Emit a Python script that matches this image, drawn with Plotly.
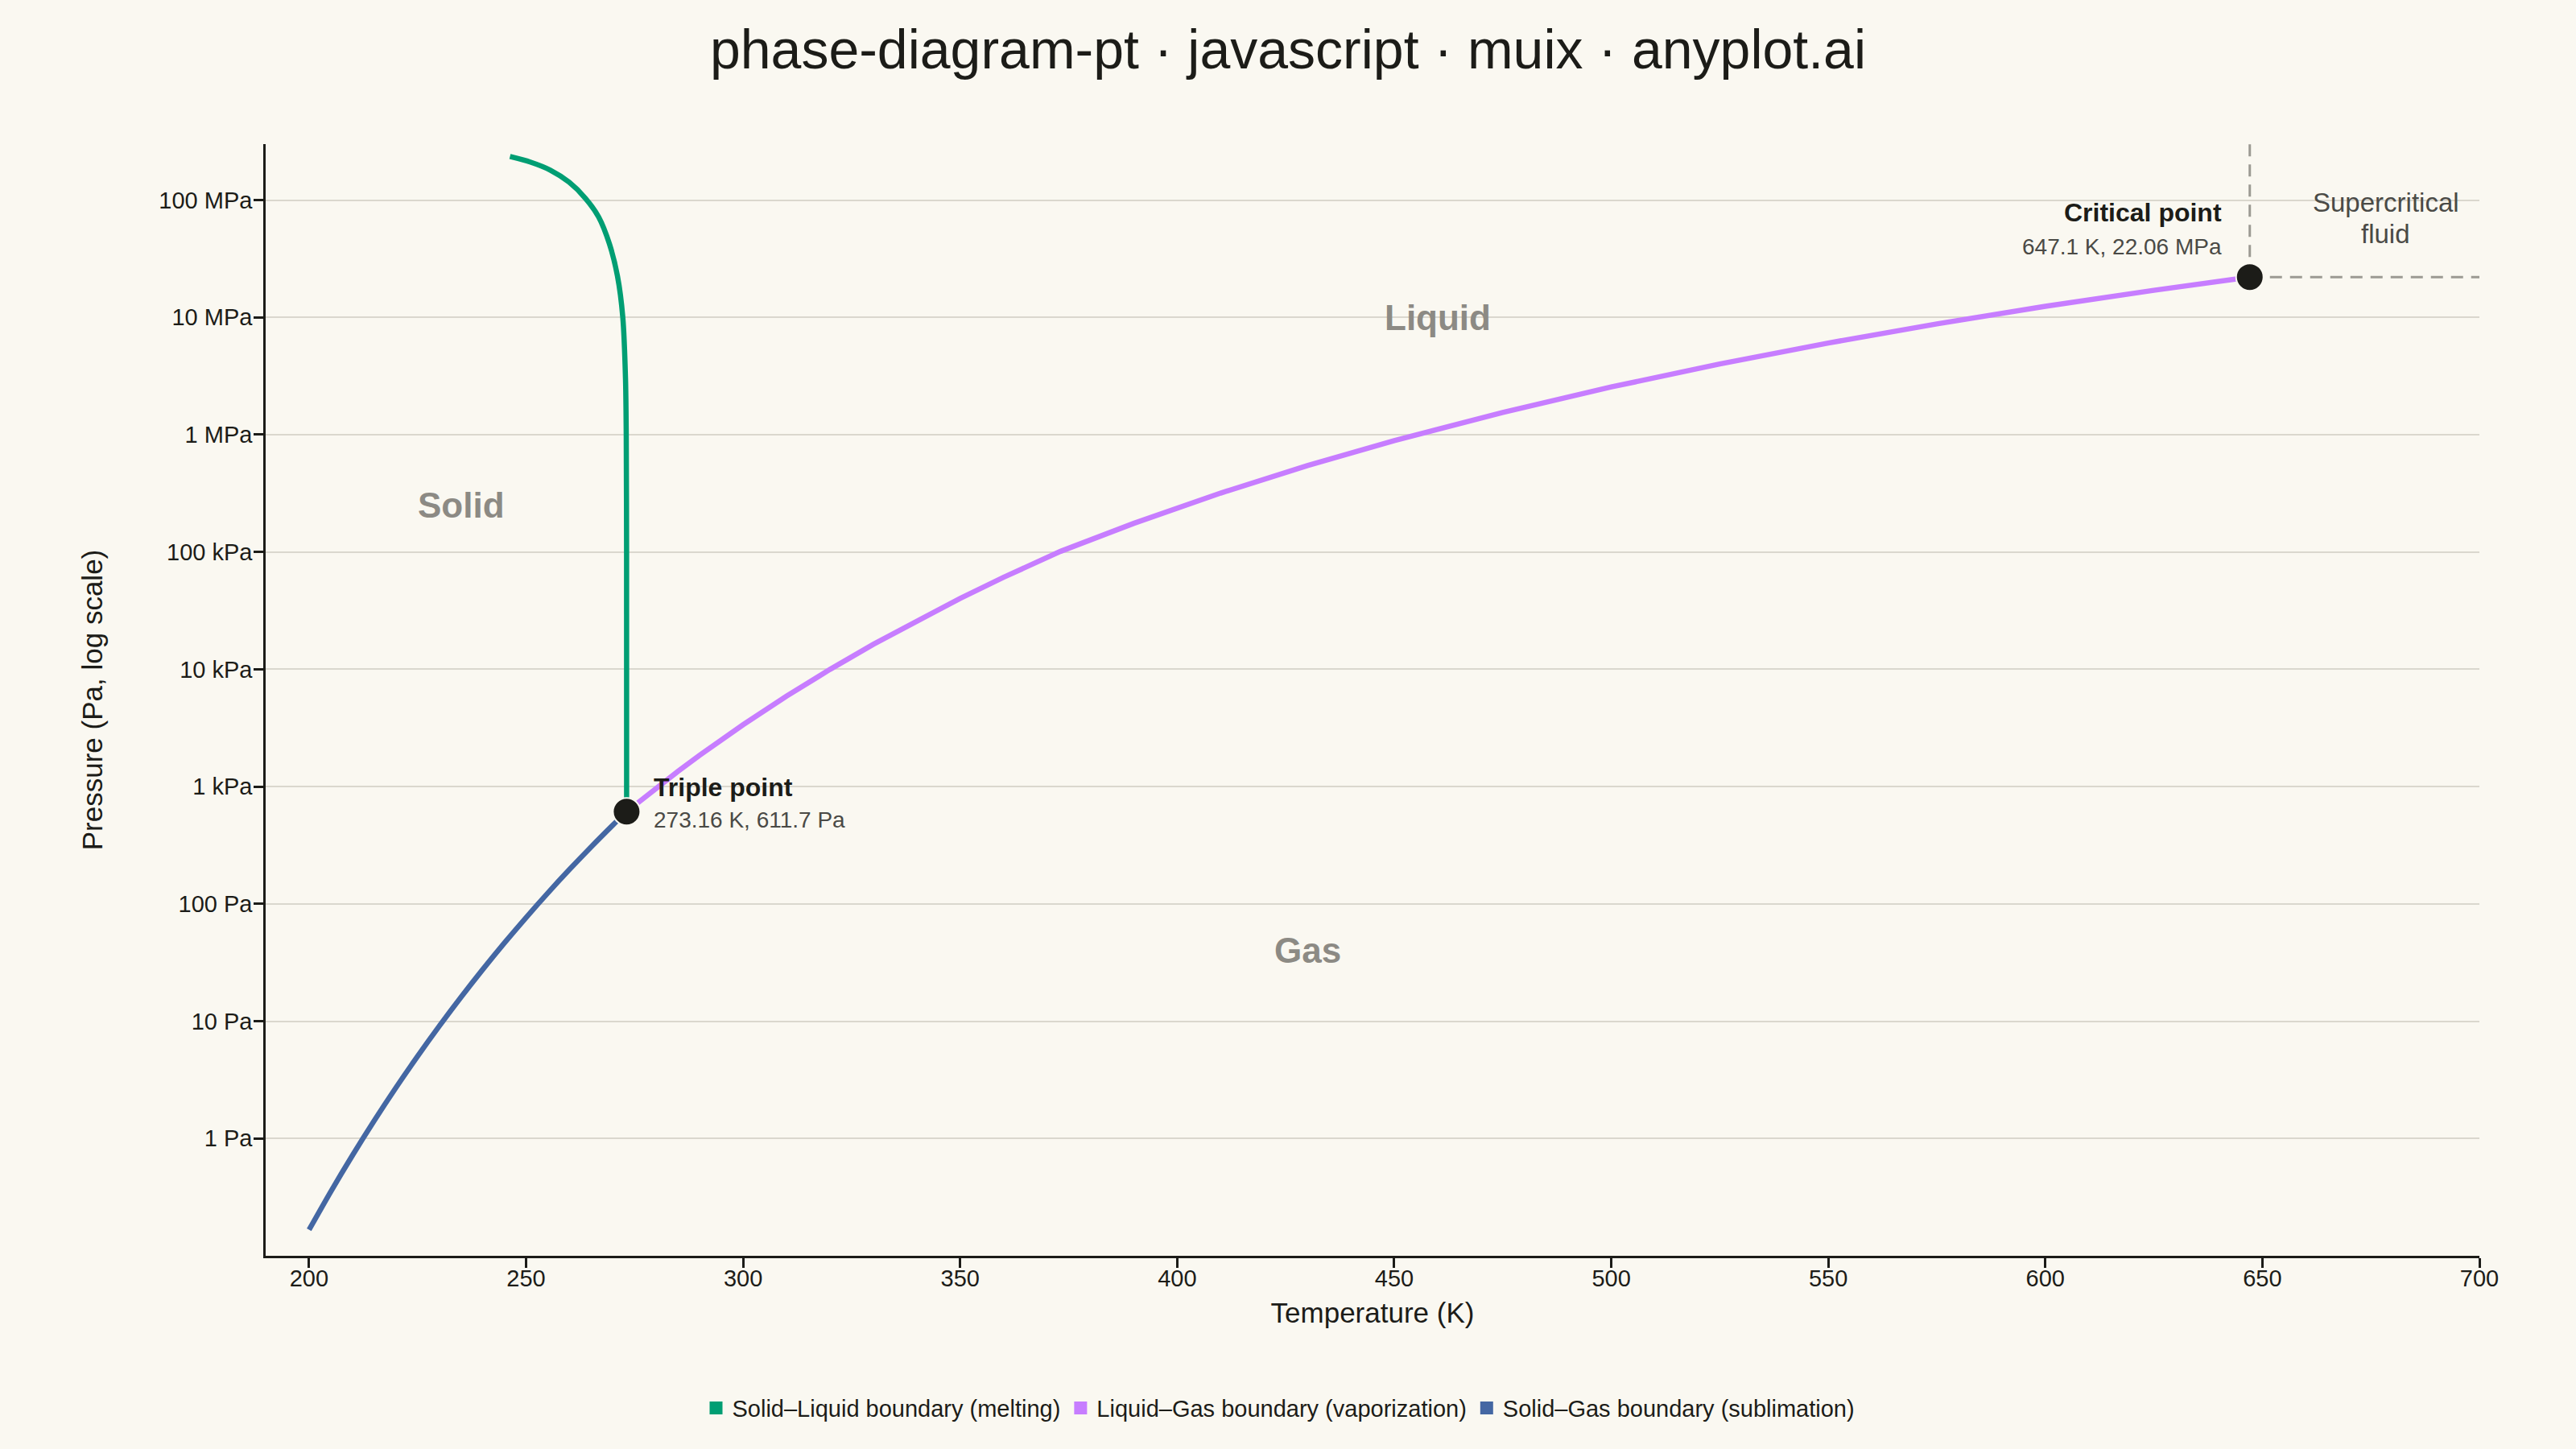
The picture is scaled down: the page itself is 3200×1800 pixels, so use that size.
import numpy as np
import plotly.graph_objects as go

# Phase boundaries of water (temperature in K, pressure in Pa)
melt_T = [273.16, 273.15, 273.07, 272.90, 272.28, 271.05, 269.19, 266.71,
          263.62, 259.91, 255.57, 250.93, 246.29]
melt_P = [611.7, 1.0e5, 1.0e6, 3.03e6, 1.0e7, 2.25e7, 4.24e7, 7.18e7,
          1.04e8, 1.42e8, 1.80e8, 2.11e8, 2.35e8]

vap_T = [273.16, 276, 280, 285, 290, 300, 310, 320, 330, 340, 350, 360,
         373.15, 390, 410, 430, 450, 475, 500, 525, 550, 575, 600, 625, 647.1]
vap_P = [611.7, 744.3, 974.6, 1351, 1851, 3369, 5899, 9972, 16333, 25979,
         40250, 60853, 101325, 175500, 317700, 544300, 888800, 1.548e6,
         2.551e6, 4.009e6, 6.046e6, 8.797e6, 1.241e7, 1.702e7, 2.206e7]

sub_T = [200, 205, 210, 215, 220, 225, 230, 235, 240, 245, 250, 255, 260,
         265, 270, 273.16]
sub_P = [0.1667, 0.3525, 0.7181, 1.416, 2.707, 5.026, 9.086, 16.01, 27.57,
         46.42, 76.53, 123.8, 196.5, 306.6, 470.5, 611.7]

triple_T, triple_P = 273.16, 611.7
crit_T, crit_P = 647.1, 22.06e6

region_names = ["Solid", "Liquid", "Gas"]
region_T = [235, 460, 430]
region_P = [2.5e5, 1.0e7, 40]

x_range = [190, 700]
y_range = [0.1, 3e8]
x_ticks = [200, 250, 300, 350, 400, 450, 500, 550, 600, 650, 700]
y_ticks = [1, 10, 100, 1e3, 1e4, 1e5, 1e6, 1e7, 1e8]
y_ticktext = ["1 Pa", "10 Pa", "100 Pa", "1 kPa", "10 kPa", "100 kPa",
              "1 MPa", "10 MPa", "100 MPa"]

series = [
    ("Solid\u2013Liquid boundary (melting)", melt_T, melt_P, "#009E73", "spline"),
    ("Liquid\u2013Gas boundary (vaporization)", vap_T, vap_P, "#C77DFF", "linear"),
    ("Solid\u2013Gas boundary (sublimation)", sub_T, sub_P, "#4467A3", "spline"),
]

BG = "#FAF8F1"
INK = "#1C1C18"
FONT = "Liberation Sans, Arial, sans-serif"

fig = go.Figure()

for name, t, p, color, shape in series:
    fig.add_trace(go.Scatter(
        x=t, y=p, mode="lines", name=name,
        line=dict(color=color, width=6.5, shape=shape, smoothing=0.8),
        showlegend=False, legendgroup=name,
    ))

# dashed guides from the critical point
fig.add_trace(go.Scatter(
    x=[crit_T, crit_T], y=[crit_P, y_range[1]], mode="lines",
    line=dict(color="#9C9A93", width=3, dash="15px,10px"),
    showlegend=False, hoverinfo="skip",
))
fig.add_trace(go.Scatter(
    x=[crit_T, x_range[1]], y=[crit_P, crit_P], mode="lines",
    line=dict(color="#9C9A93", width=3, dash="15px,10px"),
    showlegend=False, hoverinfo="skip",
))

# triple and critical points
fig.add_trace(go.Scatter(
    x=[triple_T, crit_T], y=[triple_P, crit_P], mode="markers",
    marker=dict(size=34, color=INK, line=dict(color=BG, width=2)),
    showlegend=False,
))

# legend entries (square swatches)
for name, t, p, color, shape in series:
    fig.add_trace(go.Scatter(
        x=[None], y=[None], mode="markers", name=name, legendgroup=name,
        marker=dict(symbol="square", size=16, color=color),
    ))

# region labels
for name, t, p in zip(region_names, region_T, region_P):
    fig.add_annotation(
        x=t, y=np.log10(p), text=f"<b>{name}</b>", showarrow=False,
        font=dict(size=44, color="#8C8A84", family=FONT),
    )

for line, shift in [("Supercritical", 19.5), ("fluid", -19.5)]:
    fig.add_annotation(
        x=678.4, y=np.log10(7e7), text=line, showarrow=False, yshift=shift,
        font=dict(size=33, color="#4A4A46", family=FONT),
    )

# point annotations
fig.add_annotation(
    x=triple_T, y=np.log10(triple_P), text="<b>Triple point</b>",
    showarrow=False, xanchor="left", yanchor="middle", xshift=32, yshift=30,
    font=dict(size=32, color=INK, family=FONT),
)
fig.add_annotation(
    x=triple_T, y=np.log10(triple_P), text="273.16 K, 611.7 Pa",
    showarrow=False, xanchor="left", yanchor="middle", xshift=32, yshift=-10,
    font=dict(size=28, color="#4A4A46", family=FONT),
)
fig.add_annotation(
    x=crit_T, y=np.log10(crit_P), text="<b>Critical point</b>",
    showarrow=False, xanchor="right", yanchor="middle", xshift=-33, yshift=80,
    font=dict(size=32, color=INK, family=FONT),
)
fig.add_annotation(
    x=crit_T, y=np.log10(crit_P), text="647.1 K, 22.06 MPa",
    showarrow=False, xanchor="right", yanchor="middle", xshift=-33, yshift=38,
    font=dict(size=28, color="#4A4A46", family=FONT),
)

fig.update_layout(
    width=3200, height=1800,
    paper_bgcolor=BG, plot_bgcolor=BG,
    font=dict(family=FONT, color=INK, size=29),
    title=dict(
        text="phase-diagram-pt \u00b7 javascript \u00b7 muix \u00b7 anyplot.ai",
        x=0.5, xanchor="center", y=1 - 61 / 1800, yanchor="middle",
        font=dict(size=68, color=INK, family=FONT),
    ),
    margin=dict(l=330, r=120, t=179, b=240),
    legend=dict(
        orientation="h", x=0.458, xanchor="center", y=-0.137,
        yanchor="middle", font=dict(size=29, color=INK),
        bgcolor="rgba(0,0,0,0)",
    ),
    xaxis=dict(
        range=x_range, tickvals=x_ticks, showgrid=False, zeroline=False,
        showline=True, linecolor=INK, linewidth=2.5,
        ticks="outside", ticklen=12, tickwidth=2.5, tickcolor=INK,
        ticklabelstandoff=-12,
        tickfont=dict(size=29, color=INK),
        title=dict(text="Temperature (K)", font=dict(size=35, color=INK),
                   standoff=16),
    ),
    yaxis=dict(
        type="log", range=[np.log10(y_range[0]), np.log10(y_range[1])],
        tickvals=y_ticks, ticktext=y_ticktext,
        showgrid=True, gridcolor="#DAD7CE", gridwidth=2, zeroline=False,
        showline=True, linecolor=INK, linewidth=2.5,
        ticks="outside", ticklen=12, tickwidth=2.5, tickcolor=INK,
        ticklabelstandoff=-4,
        tickfont=dict(size=29, color=INK),
        title=dict(text="Pressure (Pa, log scale)",
                   font=dict(size=35, color=INK), standoff=60),
    ),
)

fig.write_html("out.html", config={"displayModeBar": False},
               post_script="document.body.style.margin='0';")
